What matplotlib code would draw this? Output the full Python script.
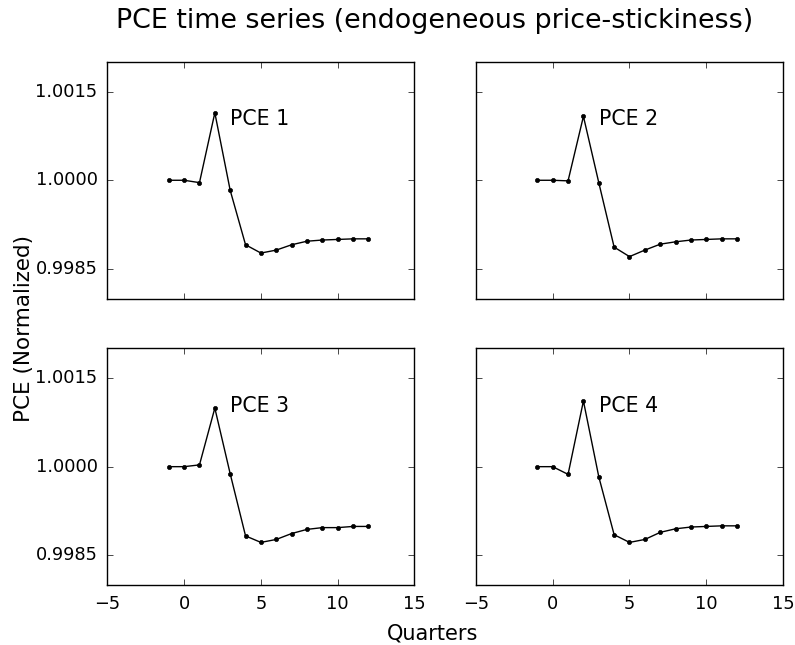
import numpy as np
import matplotlib
matplotlib.use('Agg')
import matplotlib.pyplot as plt
from matplotlib.ticker import FormatStrFormatter

plt.style.use('classic')

quarters = list(range(-1, 13))

pce1 = [1.00000, 1.00000, 0.99996, 1.00114, 0.99983, 0.99891, 0.99877,
        0.99882, 0.99891, 0.99897, 0.99899, 0.99900, 0.99901, 0.99901]
pce2 = [1.00000, 1.00000, 0.99999, 1.00108, 0.99996, 0.99887, 0.99871,
        0.99882, 0.99892, 0.99896, 0.99899, 0.99900, 0.99901, 0.99901]
pce3 = [1.00000, 1.00000, 1.00003, 1.00099, 0.99988, 0.99883, 0.99872,
        0.99877, 0.99887, 0.99894, 0.99897, 0.99897, 0.99899, 0.99899]
pce4 = [1.00000, 1.00000, 0.99987, 1.00111, 0.99983, 0.99885, 0.99872,
        0.99877, 0.99889, 0.99895, 0.99898, 0.99899, 0.99900, 0.99900]

series = [pce1, pce2, pce3, pce4]
names = ["PCE 1", "PCE 2", "PCE 3", "PCE 4"]
yticks = [0.9985, 1.0000, 1.0015]

fig, axes = plt.subplots(2, 2, sharex=True, sharey=True, figsize=(7.95, 6.45), dpi=100)
fig.patch.set_facecolor('white')
fig.subplots_adjust(left=0.135, right=0.985, top=0.904, bottom=0.093,
                    wspace=0.2, hspace=0.21)

for ax, y, name in zip(axes.flat, series, names):
    ax.plot(quarters, y, 'k.-', markersize=6, linewidth=1)
    ax.text(3, 1.00103, name, fontsize=14.8, va='center')
    ax.set_xlim(-5, 15)
    ax.set_ylim(0.998, 1.002)
    ax.set_yticks(yticks)
    ax.yaxis.set_major_formatter(FormatStrFormatter('%.4f'))
    ax.tick_params(labelsize=12.8, pad=7)

fig.suptitle("PCE time series (endogeneous price-stickiness)", fontsize=19.4,
             x=0.5465, y=0.987, va='top')
fig.text(0.544, 1 - 639 / 645, "Quarters", ha='center', va='baseline', fontsize=15)
fig.text(0.030, 0.491, "PCE (Normalized)", ha='center', va='center',
         rotation='vertical', fontsize=15.5)

fig.savefig('out.png', dpi=100, facecolor='white')
